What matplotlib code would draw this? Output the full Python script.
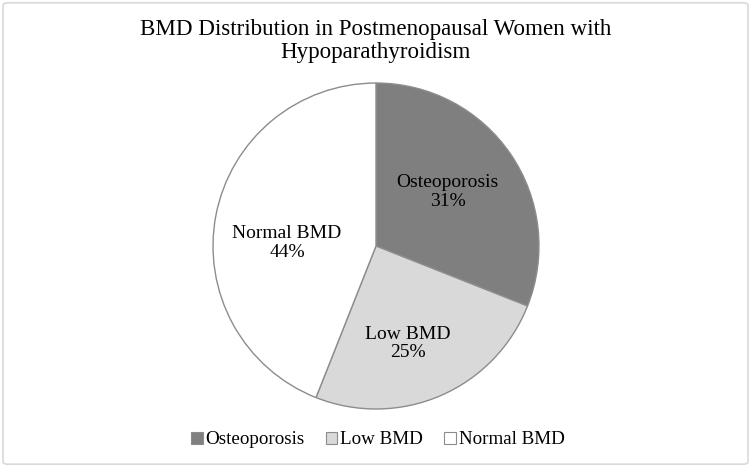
import matplotlib
matplotlib.use("Agg")
import matplotlib.pyplot as plt
import numpy as np
from matplotlib.patches import FancyBboxPatch, Patch

categories = ["Osteoporosis", "Low BMD", "Normal BMD"]
values = [31, 25, 44]
colors = ["#7f7f7f", "#d9d9d9", "#ffffff"]
# label placement (radius fraction, angle in degrees) - style only
label_pos = [(0.55, 37.0), (0.63, -71.7), (0.546, 178.0)]

plt.rcParams['font.family'] = ['Liberation Serif', 'DejaVu Serif']

fig = plt.figure(figsize=(7.51, 4.67), dpi=100)
fig.patches.append(FancyBboxPatch((0.004, 0.006), 0.992, 0.988,
                                  boxstyle="round,pad=0,rounding_size=0.006",
                                  transform=fig.transFigure, fill=False,
                                  edgecolor="#d9d9d9", linewidth=1.2))

ax = fig.add_axes([0.2836, 0.1242, 0.4341, 0.698])
wedges, _ = ax.pie(values, colors=colors, startangle=90, counterclock=False,
                   wedgeprops=dict(edgecolor="#8c8c8c", linewidth=1.0))
ax.set_xlim(-1, 1)
ax.set_ylim(-1, 1)
ax.set_aspect('equal')

for cat, v, (r, ang) in zip(categories, values, label_pos):
    x = r * np.cos(np.radians(ang))
    y = r * np.sin(np.radians(ang))
    ax.text(x, y, f"{cat}\n{v}%", ha="center", va="center", fontsize=14,
            color="#000000", linespacing=1.1)

fig.text(0.5, 0.913, "BMD Distribution in Postmenopausal Women with\nHypoparathyroidism",
         ha="center", va="center", fontsize=16.6, linespacing=1.12)

handles = [Patch(facecolor=c, edgecolor="#8c8c8c", linewidth=0.8) for c in colors]
fig.legend(handles, categories, loc="center", bbox_to_anchor=(0.503, 0.058),
           ncol=3, frameon=False, fontsize=13.7, handlelength=0.62, handleheight=0.62,
           handletextpad=0.15, columnspacing=1.1, borderpad=0.1)

fig.savefig("out.png", dpi=100)
